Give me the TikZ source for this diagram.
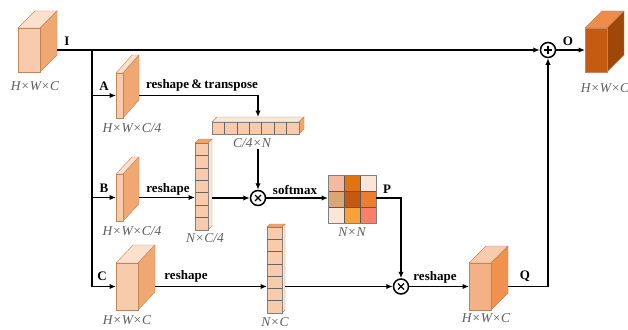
\documentclass[tikz,border=0pt]{standalone}
\usepackage{fontspec}
\setmainfont{Liberation Serif}
\usetikzlibrary{arrows.meta,calc}
\definecolor{edgec}{HTML}{C4845A}
\definecolor{dimgray}{HTML}{5E5E5E}
% light cube
\definecolor{Lfront}{HTML}{F8CBAD}
\definecolor{Lside}{HTML}{F0A873}
\definecolor{Ltop}{HTML}{FBE0CE}
% Q cube
\definecolor{Qfront}{HTML}{F4B183}
\definecolor{Qside}{HTML}{F0924F}
\definecolor{Qtop}{HTML}{F8CBAD}
% output cube
\definecolor{Ofront}{HTML}{C55A11}
\definecolor{Oside}{HTML}{9E4709}
\definecolor{Otop}{HTML}{EE8C48}
% bars
\definecolor{cellc}{HTML}{F8CBAD}
\definecolor{barorange}{HTML}{F2A46C}
\definecolor{barpale}{HTML}{FCE6D8}
% matrix
\definecolor{ma}{HTML}{F4B9A0}
\definecolor{mb}{HTML}{E2730E}
\definecolor{mc}{HTML}{FCE4D6}
\definecolor{md}{HTML}{DDA474}
\definecolor{me}{HTML}{C65911}
\definecolor{mf}{HTML}{ED7D31}
\definecolor{mg}{HTML}{FBE5D6}
\definecolor{mh}{HTML}{F9A23A}
\definecolor{mi}{HTML}{F8806A}

% cuboid: name, x1, y1, x2, y2, dx, dy, colour set
\newcommand{\cub}[8]{%
  \filldraw[fill=#8top,draw=edgec,line width=0.4pt] (#2,#3) -- ++(#6,-#7) -- ({#4+#6},{#3-#7}) -- (#4,#3) -- cycle;
  \filldraw[fill=#8side,draw=edgec,line width=0.4pt] (#4,#3) -- ({#4+#6},{#3-#7}) -- ({#4+#6},{#5-#7}) -- (#4,#5) -- cycle;
  \node[fill=#8front,draw=edgec,line width=0.4pt,inner sep=0,outer sep=0,
        minimum width={(#4-#2)*1pt},minimum height={(#5-#3)*1pt},anchor=north west] (#1) at (#2,#3) {};
  \coordinate (#1-r) at ($(#1.east)+(#6,0)$);
}
% vertical bar: name, x1, y1, x2, y2, cells, depth
\newcommand{\colbar}[7]{%
  \filldraw[fill=barorange,draw=edgec,line width=0.4pt] (#2,#3) -- ++(#7,-#7) -- ({#4+#7},{#3-#7}) -- (#4,#3) -- cycle;
  \filldraw[fill=barpale,draw=edgec,line width=0.4pt] (#4,#3) -- ({#4+#7},{#3-#7}) -- ({#4+#7},{#5-#7}) -- (#4,#5) -- cycle;
  \node[fill=cellc,draw=gray,line width=0.4pt,inner sep=0,outer sep=0,
        minimum width={(#4-#2)*1pt},minimum height={(#5-#3)*1pt},anchor=north west] (#1) at (#2,#3) {};
  \foreach \k in {1,...,\numexpr#6-1\relax}{\draw[gray!80!black,line width=0.5pt] ({#2},{#3+\k*(#5-#3)/#6}) -- ({#4},{#3+\k*(#5-#3)/#6});}
  \coordinate (#1-r) at ($(#1.east)+(#7,0)$);
}
% horizontal bar: name, x1, y1, x2, y2, cells, depth
\newcommand{\rowbar}[7]{%
  \filldraw[fill=barpale,draw=edgec,line width=0.4pt] (#2,#3) -- ++(#7,-#7) -- ({#4+#7},{#3-#7}) -- (#4,#3) -- cycle;
  \filldraw[fill=barorange,draw=edgec,line width=0.4pt] (#4,#3) -- ({#4+#7},{#3-#7}) -- ({#4+#7},{#5-#7}) -- (#4,#5) -- cycle;
  \node[fill=cellc,draw=gray,line width=0.4pt,inner sep=0,outer sep=0,
        minimum width={(#4-#2)*1pt},minimum height={(#5-#3)*1pt},anchor=north west] (#1) at (#2,#3) {};
  \foreach \k in {1,...,\numexpr#6-1\relax}{\draw[gray!80!black,line width=0.5pt] ({#2+\k*(#4-#2)/#6},{#3}) -- ({#2+\k*(#4-#2)/#6},{#5});}
  \coordinate (#1-t) at ($(#1.north)+({#7/2},-#7)$);
}
\newcommand{\mcell}[3]{\fill[#3] ({328+16*#1},{175+16*#2}) rectangle ++(16,16);}

\begin{document}
\begin{tikzpicture}[x=1pt,y=-1pt,
  conn/.style={line width=1.6pt},
  arr/.style={line width=1.6pt,-{Latex[length=6.5pt,width=5.5pt]}},
  dim/.style={font=\fontsize{13.5}{15}\selectfont\itshape,text=dimgray,inner sep=1pt},
  lab/.style={font=\fontsize{13}{15}\selectfont\bfseries,inner sep=1pt},
  opnode/.style={circle,draw,line width=1.5pt,minimum size=15pt,inner sep=0,fill=white},
  timesop/.style={opnode,path picture={
     \draw[line width=1.2pt] ([shift={(-3pt,-3pt)}]path picture bounding box.center) -- ([shift={(3pt,3pt)}]path picture bounding box.center);
     \draw[line width=1.2pt] ([shift={(-3pt,3pt)}]path picture bounding box.center) -- ([shift={(3pt,-3pt)}]path picture bounding box.center);}},
  plusop/.style={opnode,path picture={
     \draw[line width=1.3pt] ([shift={(-4pt,0pt)}]path picture bounding box.center) -- ([shift={(4pt,0pt)}]path picture bounding box.center);
     \draw[line width=1.3pt] ([shift={(0pt,-4pt)}]path picture bounding box.center) -- ([shift={(0pt,4pt)}]path picture bounding box.center);}}
]
\useasboundingbox[fill=white] (0,0) rectangle (628,329);

% cubes
\cub{cIn}{18}{28}{40}{72}{17}{17}{L}
\cub{cA}{116}{73}{123}{118}{16}{18}{L}
\cub{cB}{116}{174}{123}{221}{16}{17}{L}
\cub{cC}{116}{263}{138}{310}{17}{18}{L}
\cub{cQ}{469}{263}{491}{310}{17}{17}{Q}
\cub{cO}{585}{28}{607}{72}{17}{17}{O}

% bars
\rowbar{rowT}{212}{122}{299}{134}{7}{5}
\colbar{colB}{195}{143}{208}{230}{7}{4}
\colbar{colC}{267}{227}{282}{313}{7}{3}

% matrix
\mcell{0}{0}{ma}\mcell{1}{0}{mb}\mcell{2}{0}{mc}
\mcell{0}{1}{md}\mcell{1}{1}{me}\mcell{2}{1}{mf}
\mcell{0}{2}{mg}\mcell{1}{2}{mh}\mcell{2}{2}{mi}
\foreach \k in {1,2}{
  \draw[gray!70!black,line width=0.4pt] ({328+16*\k},175) -- ({328+16*\k},223);
  \draw[gray!70!black,line width=0.4pt] (328,{175+16*\k}) -- (376,{175+16*\k});}
\node[draw=gray,line width=0.5pt,inner sep=0,outer sep=0,minimum size=48pt,anchor=north west] (mat) at (328,175) {};

% operators
\node[timesop] (m1) at (258,198) {};
\node[timesop] (m2) at (401,286.5) {};
\node[plusop] (plus) at (548,50) {};

% dimension labels
\node[dim] (dIn) at (35,86) {H×W×C};
\node[dim] (dA) at (132,128) {H×W×C/4};
\node[dim] (dT) at (252,143) {C/4×N};
\node[dim] (dB) at (132,231) {H×W×C/4};
\node[dim] (dColB) at (205,238) {N×C/4};
\node[dim] (dC) at (127,320) {H×W×C};
\node[dim] (dColC) at (275,322) {N×C};
\node[dim] (dM) at (352,232) {N×N};
\node[dim] (dQ) at (486,318) {H×W×C};
\node[dim] (dO) at (605,88) {H×W×C};

% text labels
\node[lab] (lI) at (67,41) {I};
\node[lab] (lA) at (104,86) {A};
\node[lab] (lB) at (104,188) {B};
\node[lab] (lC) at (102,276) {C};
\node[lab] (lRT) at (202,85) {reshape\,\&\,transpose};
\node[lab] (lRB) at (168,189) {reshape};
\node[lab] (lSm) at (295,190) {softmax};
\node[lab] (lP) at (387,189) {P};
\node[lab] (lRC) at (186,276) {reshape};
\node[lab] (lRQ) at (435,277) {reshape};
\node[lab] (lQ) at (525,276) {Q};
\node[lab] (lO) at (568,41) {O};

% connectors
\coordinate (br) at (92,50);
\draw[arr] (cIn-r) -- (plus);
\draw[arr] (br) |- (cA.west);
\draw[arr] (br) |- (cB.west);
\draw[arr] (br) |- (cC.west);
\draw[arr] (cA-r) -| (rowT-t);
\draw[arr] (dT.south -| m1) -- (m1);
\draw[arr] (cB-r) -- (cB-r -| colB.west);
\draw[arr] (colB-r |- m1) -- (m1);
\draw[arr] (m1) -- (m1 -| mat.west);
\draw[arr] (mat.east |- m1) -| (m2);
\draw[arr] (cC-r) -- (cC-r -| colC.west);
\draw[arr] (colC-r |- m2) -- (m2);
\draw[arr] (m2) -- (m2 -| cQ.west);
\draw[arr] (cQ-r) -| (plus);
\draw[arr] (plus) -- (cO.west);
\end{tikzpicture}
\end{document}
